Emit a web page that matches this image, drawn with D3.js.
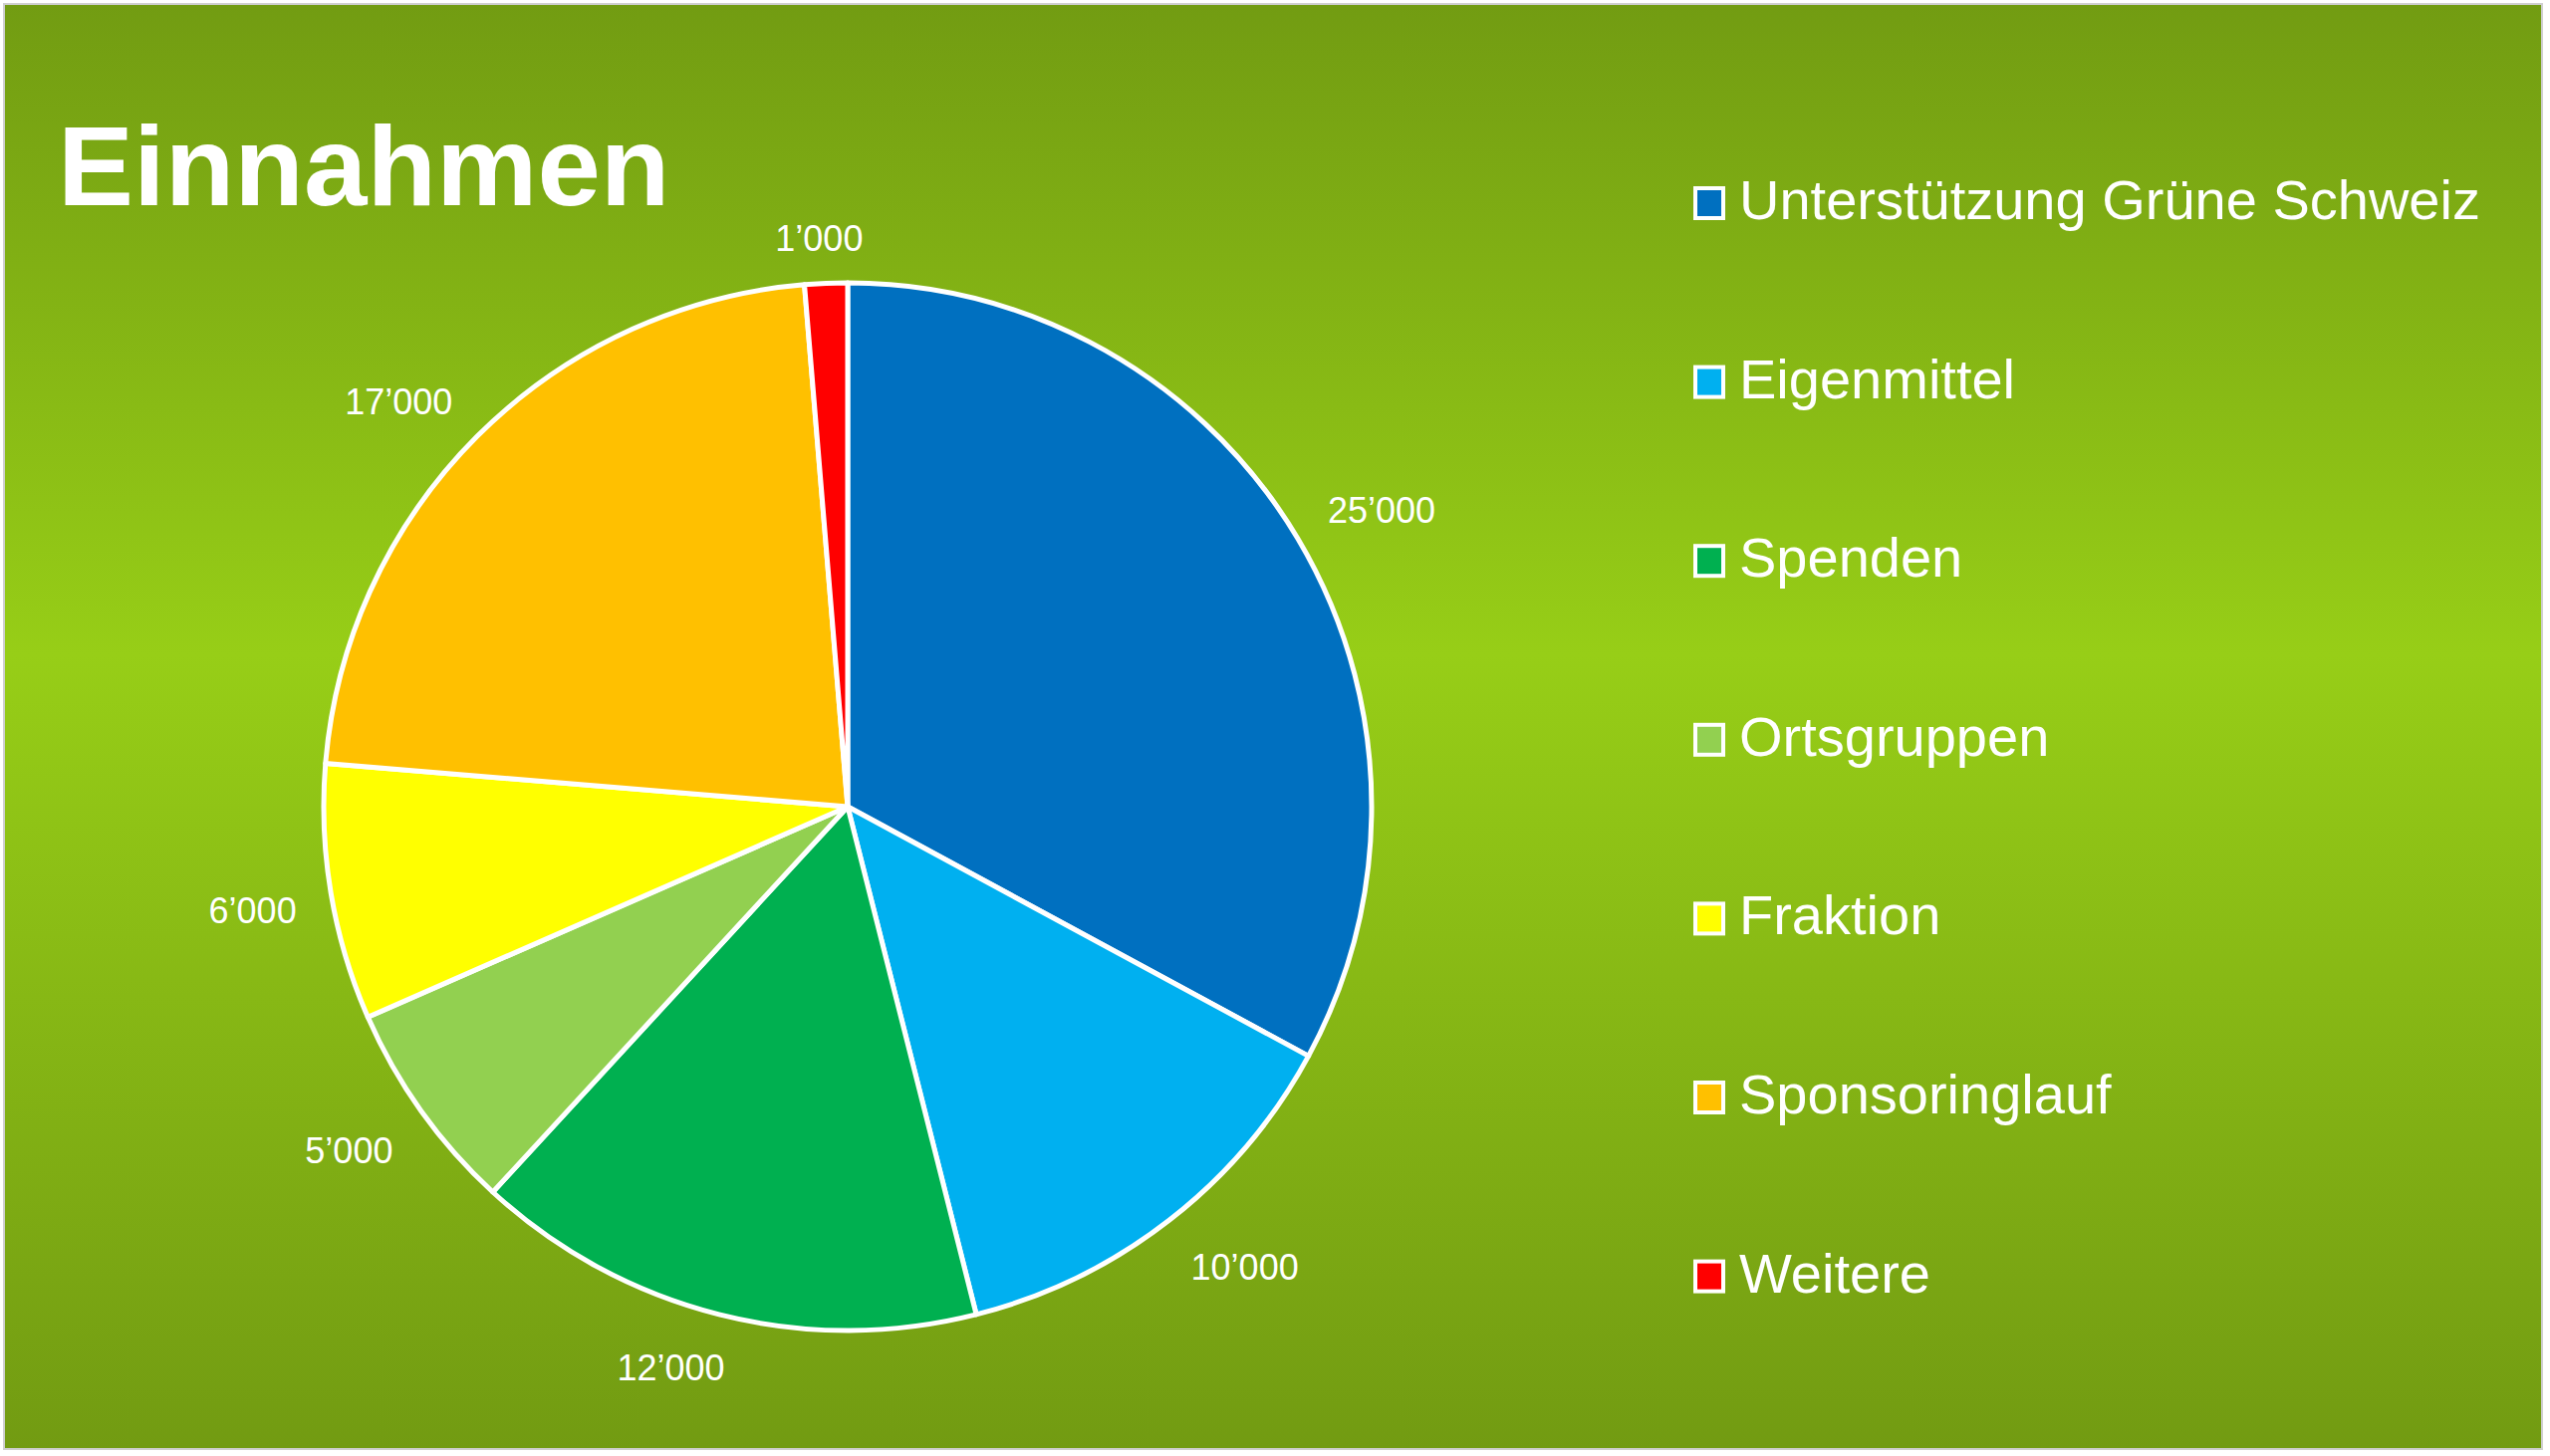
<!DOCTYPE html>
<html>
<head>
<meta charset="utf-8">
<script src="https://cdn.jsdelivr.net/npm/d3@7"></script>
<style>
  body { margin: 0; background: #fff; }
  svg { display: block; }
</style>
</head>
<body>
<div id="chart"></div>
<script>
// Einnahmen - pie chart
const categories = ["Unterstützung Grüne Schweiz", "Eigenmittel", "Spenden", "Ortsgruppen", "Fraktion", "Sponsoringlauf", "Weitere"];
const values = [25000, 10000, 12000, 5000, 6000, 17000, 1000];
const labels = ["25’000", "10’000", "12’000", "5’000", "6’000", "17’000", "1’000"];
const colors = ["#0070C0", "#00B0F0", "#00B050", "#92D050", "#FFFF00", "#FFC000", "#FF0000"];

const W = 2560, H = 1462;
const cx = 851, cy = 810, radius = 526;

const svg = d3.select("#chart")
  .append("svg")
    .attr("width", W)
    .attr("height", H);

// background gradient
const grad = svg.append("defs").append("linearGradient")
    .attr("id", "bg")
    .attr("x1", 0).attr("y1", 0).attr("x2", 0).attr("y2", 1);
grad.append("stop").attr("offset", "0%").attr("stop-color", "#729c12");
grad.append("stop").attr("offset", "45%").attr("stop-color", "#97ce17");
grad.append("stop").attr("offset", "100%").attr("stop-color", "#729b12");

svg.append("rect")
    .attr("x", 4).attr("y", 4)
    .attr("width", 2548).attr("height", 1451)
    .attr("fill", "url(#bg)")
    .attr("stroke", "#cfcfcf")
    .attr("stroke-width", 2);

// title
svg.append("text")
    .attr("x", 58).attr("y", 206)
    .attr("font-family", "Liberation Sans, Arial, sans-serif")
    .attr("font-weight", "bold")
    .attr("font-size", 114)
    .attr("fill", "#fff")
    .text("Einnahmen");

// pie
const data = categories.map((c, i) => ({name: c, value: values[i], label: labels[i], color: colors[i]}));
const pie = d3.pie().value(d => d.value).sort(null);
const arc = d3.arc().innerRadius(0).outerRadius(radius);

const g = svg.append("g").attr("transform", `translate(${cx},${cy})`);
const arcs = pie(data);

g.selectAll("path")
  .data(arcs)
  .join("path")
    .attr("d", arc)
    .attr("fill", d => d.data.color)
    .attr("stroke", "#fff")
    .attr("stroke-width", 5)
    .attr("stroke-linejoin", "round");

// data labels, outside end (box corner sits just outside the rim)
const gap = 35;
const clamp = v => Math.max(-1, Math.min(1, v * 3));
g.selectAll("text.lbl")
  .data(arcs)
  .join("text")
    .attr("class", "lbl")
    .attr("font-family", "Liberation Sans, Arial, sans-serif")
    .attr("font-size", 36)
    .attr("fill", "#fff")
    .attr("text-anchor", "middle")
    .attr("dominant-baseline", "central")
    .text(d => d.data.label)
    .each(function(d) {
      const a = (d.startAngle + d.endAngle) / 2;
      const s = Math.sin(a), c = Math.cos(a);
      const w = this.getComputedTextLength(), h = 30;
      const x = (radius + gap) * s + (w / 2) * clamp(s);
      const y = -(radius + gap) * c - (h / 2) * clamp(c) + 5;
      d3.select(this).attr("x", x).attr("y", y);
    });

// legend
const legend = svg.append("g").attr("transform", "translate(1700,220)");
const rowH = 179.6;
const items = legend.selectAll("g")
  .data(data)
  .join("g")
    .attr("transform", (d, i) => `translate(0,${i * rowH})`);

items.append("rect")
    .attr("x", 2).attr("y", -31)
    .attr("width", 28).attr("height", 30)
    .attr("fill", d => d.color)
    .attr("stroke", "#fff")
    .attr("stroke-width", 4);

items.append("text")
    .attr("x", 46).attr("y", 0)
    .attr("font-family", "Liberation Sans, Arial, sans-serif")
    .attr("font-size", 56)
    .attr("fill", "#fff")
    .text(d => d.name);
</script>
</body>
</html>
